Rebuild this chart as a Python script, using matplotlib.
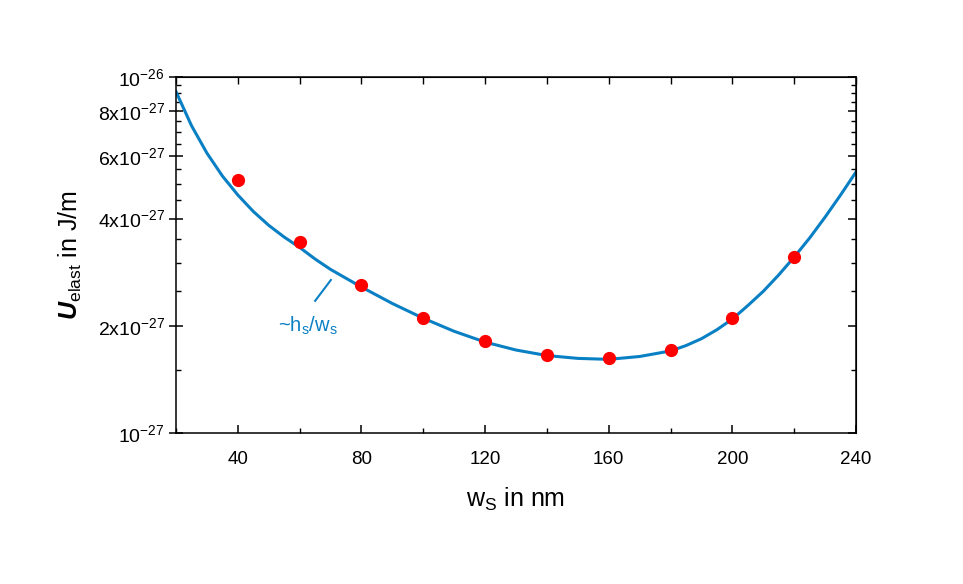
import matplotlib
matplotlib.use("Agg")
from matplotlib import pyplot as plt
from matplotlib.ticker import FixedLocator, FixedFormatter, NullFormatter, MultipleLocator

plt.rcParams['font.family'] = 'sans-serif'
plt.rcParams['font.sans-serif'] = ['Liberation Sans', 'DejaVu Sans']
plt.rcParams['mathtext.fontset'] = 'custom'
plt.rcParams['mathtext.rm'] = 'sans'
plt.rcParams['mathtext.it'] = 'sans:italic'
plt.rcParams['mathtext.bf'] = 'sans:bold'
plt.rcParams['mathtext.bfit'] = 'sans:italic:bold'

# measured points (U_elast in units of 1e-27 J/m)
w_pts = [40, 60, 80, 100, 120, 140, 160, 180, 200, 220]
u_pts = [5.15, 3.45, 2.60, 2.10, 1.81, 1.66, 1.62, 1.71, 2.11, 3.12]

# fitted curve ~h_s/w_s
w_fit = [20, 25, 30, 35, 40, 45, 50, 55, 60, 65, 70, 75, 80, 90, 100, 110,
         120, 130, 140, 150, 160, 170, 180, 185, 190, 195, 200, 205, 210,
         215, 220, 225, 230, 235, 240]
u_fit = [9.09, 7.30, 6.11, 5.27, 4.66, 4.19, 3.83, 3.55, 3.32, 3.08, 2.88,
         2.72, 2.57, 2.31, 2.10, 1.93, 1.80, 1.71, 1.65, 1.62, 1.61, 1.64,
         1.70, 1.76, 1.84, 1.95, 2.09, 2.28, 2.50, 2.78, 3.12, 3.53, 4.04,
         4.66, 5.41]

y_major = [1, 2, 4, 6, 8, 10]
y_major_labels = [r'$\mathregular{10^{-27}}$', r'$\mathregular{2x10^{-27}}$',
                  r'$\mathregular{4x10^{-27}}$', r'$\mathregular{6x10^{-27}}$',
                  r'$\mathregular{8x10^{-27}}$', r'$\mathregular{10^{-26}}$']
y_minor = [1.5, 2.5, 3, 3.5, 4.5, 5, 5.5, 6.5, 7, 7.5, 8.5, 9, 9.5]

scale = 1e-27
blue = '#0a80c4'

fig = plt.figure(figsize=(9.63, 5.84), dpi=100)
ax = fig.add_axes([0.1828, 0.2586, 0.7061, 0.6096])

ax.plot(w_fit, [u * scale for u in u_fit], color=blue, lw=2.2, zorder=2)
ax.plot(w_pts, [u * scale for u in u_pts], 'o', color='#ff0000', ms=8.5, zorder=3)

ax.set_yscale('log')
ax.set_xlim(20, 240)
ax.set_ylim(1e-27, 1e-26)

ax.yaxis.set_major_locator(FixedLocator([v * scale for v in y_major]))
ax.yaxis.set_major_formatter(FixedFormatter(y_major_labels))
ax.yaxis.set_minor_locator(FixedLocator([v * scale for v in y_minor]))
ax.yaxis.set_minor_formatter(NullFormatter())
ax.xaxis.set_major_locator(MultipleLocator(40))
ax.xaxis.set_minor_locator(MultipleLocator(20))

ax.tick_params(axis='y', which='major', direction='inout', length=10, width=1.1,
               labelsize=14, pad=3)
ax.tick_params(axis='y', which='minor', direction='in', length=3.5, width=1.0)
ax.tick_params(axis='x', which='major', direction='in', length=6, width=1.1,
               labelsize=13.5, pad=13)
ax.tick_params(axis='x', which='minor', direction='in', length=3.5, width=1.0)
for s in ax.spines.values():
    s.set_linewidth(1.1)

top = ax.secondary_xaxis('top')
top.xaxis.set_major_locator(MultipleLocator(20))
top.tick_params(direction='in', length=5, width=1.0, labeltop=False)

right = ax.secondary_yaxis('right')
right.yaxis.set_major_locator(FixedLocator([v * scale for v in y_major]))
right.yaxis.set_minor_locator(FixedLocator([v * scale for v in y_minor]))
right.yaxis.set_major_formatter(NullFormatter())
right.yaxis.set_minor_formatter(NullFormatter())
right.tick_params(which='major', direction='in', length=6, width=1.1)
right.tick_params(which='minor', direction='in', length=3.5, width=1.0)

ax.set_xlabel(r'$\mathregular{w_S}$ in nm', fontsize=18, labelpad=13)
ax.set_ylabel(r'$\mathbfit{U}_{\mathregular{elast}}$ in J/m', fontsize=18, labelpad=10)

ax.plot([65.0, 70.1], [2.35e-27, 2.69e-27], color=blue, lw=1.5)
ax.text(62.7, 1.92e-27, r'~$\mathregular{h_s/w_s}$', color=blue, fontsize=14.5,
        ha='center', va='baseline')

plt.savefig('out.png', dpi=100)
